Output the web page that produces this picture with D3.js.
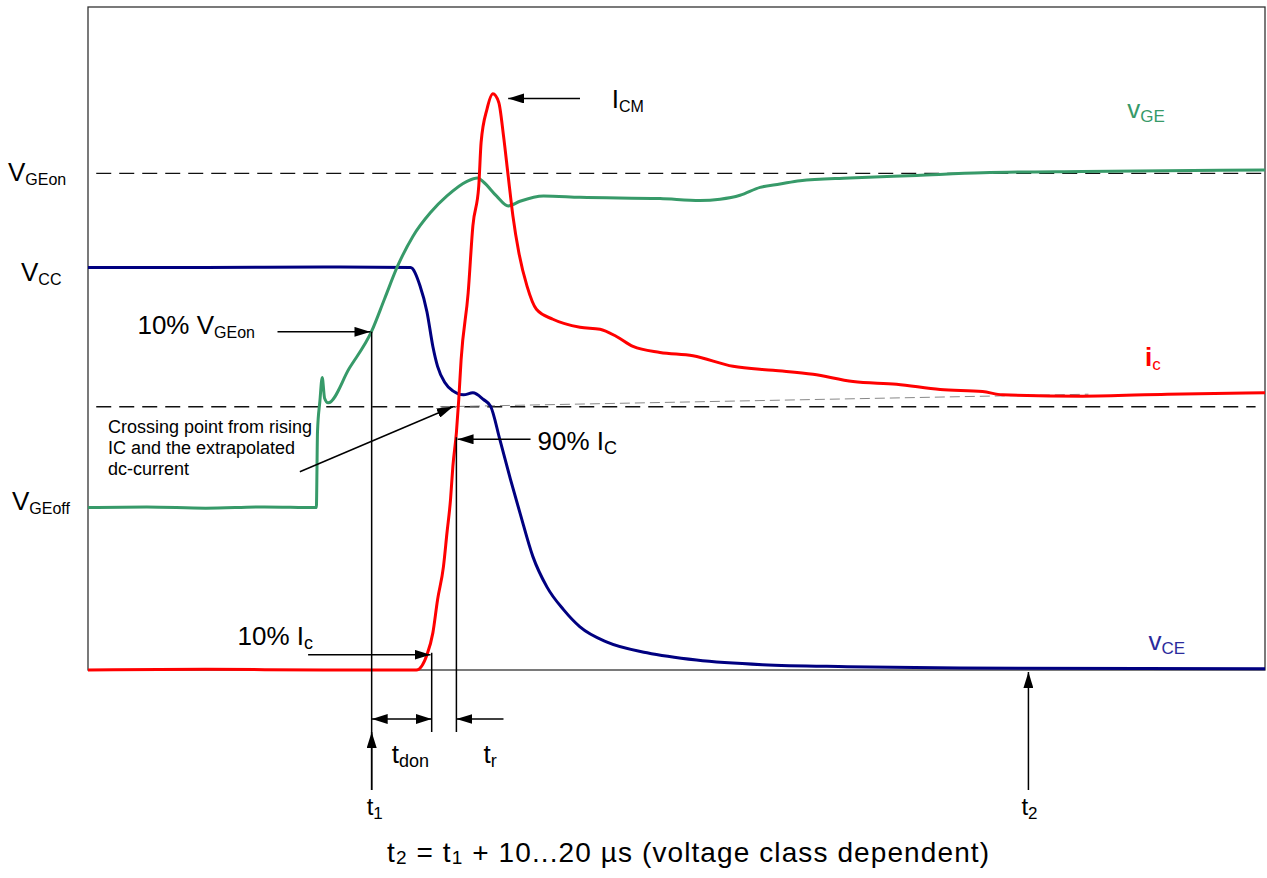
<!DOCTYPE html>
<html>
<head>
<meta charset="utf-8">
<script src="https://cdn.jsdelivr.net/npm/d3@7"></script>
<style>
  body { margin: 0; background: #fff; }
  svg text { font-family: "Liberation Sans", Arial, sans-serif; }
</style>
</head>
<body>
<svg id="chart" width="1267" height="878"></svg>
<script>
// --- Data (time in % of window, amplitude in % of full scale) ---
const vgeTrace = [
  [0,24.5],[5,24.6],[10,24.4],[15,24.6],[19.4,24.5],[19.5,36.0],[19.7,40.5],[19.9,44.1],
  [20.1,41.0],[20.4,40.3],[22.2,45.5],[24.1,51.1],[25.2,56.0],[26.3,60.9],[27.6,65.4],
  [29.1,69.0],[30.5,71.5],[32.2,73.7],[33.1,74.2],[33.6,73.6],[34.7,71.5],[35.7,70.0],
  [36.7,70.7],[38.7,71.5],[41.8,71.3],[48.6,71.1],[52.0,70.8],[53.7,71.0],[55.4,71.6],
  [57.1,72.8],[58.8,73.3],[60.5,73.8],[64.7,74.2],[70.4,74.6],[76.0,75.0],[84.5,75.2],[100,75.4]
];
const vceTrace = [
  [0,60.7],[10,60.7],[20,60.8],[27.4,60.7],[28.2,58.0],[28.8,54.0],[29.3,48.8],[29.7,45.8],
  [30.3,43.4],[31.0,42.1],[31.9,41.5],[32.7,41.8],[33.6,40.8],[34.2,39.8],[35.0,34.7],
  [35.9,28.7],[36.7,23.7],[37.8,17.1],[39.0,12.5],[40.4,9.1],[41.8,6.5],[44.1,4.2],
  [47.5,2.6],[51.7,1.5],[57.3,0.8],[64.5,0.5],[74.1,0.3],[100,0.2]
];
const icTrace = [
  [0,0],[10,0.1],[20,0],[27.9,0],[28.8,2.3],[29.3,5.6],[29.7,10.6],[30.2,15.6],[30.5,20.7],
  [30.8,25.7],[31.0,30.7],[31.3,35.8],[31.5,40.8],[31.7,46.8],[32.3,56.9],[32.7,67.0],
  [33.2,73.0],[33.4,79.6],[33.9,84.6],[34.4,86.9],[34.9,85.6],[35.3,80.6],[35.7,74.5],
  [36.1,68.5],[36.6,63.0],[37.3,57.9],[38.1,54.4],[39.5,52.9],[41.8,51.7],[43.5,51.4],
  [44.9,50.3],[46.3,48.8],[48.6,47.9],[51.4,47.4],[54.8,45.8],[58.2,45.2],[61.6,44.6],
  [65.0,43.5],[68.7,43.1],[72.4,42.3],[76.0,42.0],[77.7,41.5],[84.5,41.3],[91.7,41.6],[100,41.8]
];
const dashedLevels = [74.9, 39.7];          // V_GEon, crossing level
const dashedEnds = [100, 99.2];
const extrapLine = [[29.9,39.7],[85,41.6]];  // extrapolated dc-current
const levelV = { GEon: 74.9, CC: 60.7, GEoff: 24.5 };
const tMarks = { t1: 24.1, tdon: 29.2, tr: 31.3, t2: 79.9 };
const crossText = ["Crossing point from rising", "IC and the extrapolated", "dc-current"];

// --- Khung vẽ ---
const svg = d3.select("#chart");
const x = d3.scaleLinear().domain([0, 100]).range([88, 1265]);
const y = d3.scaleLinear().domain([0, 100]).range([670, 7]);
const y0 = y(0);

// --- Arrow markers ---
const defs = svg.append("defs");
defs.append("marker")
  .attr("id", "arr")
  .attr("viewBox", "0 0 16 10")
  .attr("refX", 16).attr("refY", 5)
  .attr("markerWidth", 16).attr("markerHeight", 10)
  .attr("markerUnits", "userSpaceOnUse")
  .attr("orient", "auto-start-reverse")
  .append("path").attr("d", "M0,0 L16,5 L0,10 Z").attr("fill", "#000");

// --- Frame ---
svg.append("rect")
  .attr("x", x(0)).attr("y", y(100))
  .attr("width", x(100) - x(0)).attr("height", y(0) - y(100))
  .attr("fill", "none").attr("stroke", "#333").attr("stroke-width", 1.3);

// --- Dashed levels ---
svg.selectAll("line.level")
  .data(dashedLevels)
  .enter().append("line")
    .attr("class", "level")
    .attr("x1", x(0.7)).attr("x2", (d, i) => x(dashedEnds[i]))
    .attr("y1", d => y(d)).attr("y2", d => y(d))
    .attr("stroke", "#111").attr("stroke-width", 1.4)
    .attr("stroke-dasharray", "15,8");

svg.append("line")
  .attr("x1", x(extrapLine[0][0])).attr("y1", y(extrapLine[0][1]))
  .attr("x2", x(extrapLine[1][0])).attr("y2", y(extrapLine[1][1]))
  .attr("stroke", "#888").attr("stroke-width", 1)
  .attr("stroke-dasharray", "10,5");

// --- Traces ---
const line = d3.line().x(d => x(d[0])).y(d => y(d[1])).curve(d3.curveMonotoneX);
const traces = [
  { data: vceTrace, color: "#000080" },
  { data: vgeTrace, color: "#379a69" },
  { data: icTrace,  color: "#ff0000" }
];
svg.selectAll("path.trace")
  .data(traces)
  .enter().append("path")
    .attr("class", "trace")
    .attr("d", d => line(d.data))
    .attr("fill", "none")
    .attr("stroke", d => d.color)
    .attr("stroke-width", 3)
    .attr("stroke-linejoin", "round");

// --- helpers ---
function arrow(x1, y1, x2, y2, both) {
  const l = svg.append("line")
    .attr("x1", x1).attr("y1", y1).attr("x2", x2).attr("y2", y2)
    .attr("stroke", "#000").attr("stroke-width", 1.5)
    .attr("marker-end", "url(#arr)");
  if (both) l.attr("marker-start", "url(#arr)");
}
function vline(xp, y1, y2) {
  svg.append("line")
    .attr("x1", xp).attr("x2", xp).attr("y1", y1).attr("y2", y2)
    .attr("stroke", "#000").attr("stroke-width", 1.5);
}
function label(xp, yp, main, sub, o) {
  o = o || {};
  const t = svg.append("text")
    .attr("x", xp).attr("y", yp)
    .style("font-size", (o.size || 26) + "px")
    .style("fill", o.color || "#000");
  t.append("tspan").text(main).style("font-weight", o.bold ? "bold" : "normal");
  if (sub) t.append("tspan")
    .attr("dy", o.dy || 4)
    .style("font-size", (o.subSize || 16) + "px")
    .text(sub);
  return t;
}

// --- Level labels ---
label(8, y(levelV.GEon) + 8, "V", "GEon");
label(21, y(levelV.CC) + 13, "V", "CC");
label(12, y(levelV.GEoff) + 2, "V", "GEoff");

// --- 10% V_GEon ---
arrow(x(16.1), y(51.0), x(24.0), y(51.0));
label(x(4.2), y(51.0) + 2, "10% V", "GEon");
vline(x(tMarks.t1), y(51.0), y0 + 120);
arrow(x(tMarks.t1), y0 + 120, x(tMarks.t1), y0 + 62);

// --- Crossing point ---
const cross = svg.append("text").style("font-size", "18px");
crossText.forEach((s, i) => {
  cross.append("tspan").attr("x", x(1.7)).attr("y", y(35.7) + i * 21).text(s);
});
arrow(x(18.0), y(29.9), x(31.0), y(39.7));

// --- 10% Ic / 90% IC ---
arrow(x(18.7), y(2.3), x(29.1), y(2.3));
label(x(12.7), y(3.8), "10% I", "c", { subSize: 18 });
vline(x(tMarks.tdon), y(2.6), y0 + 62);

arrow(x(37.6), y(34.8), x(31.4), y(34.8));
label(x(38.2), y(33.2), "90% I", "C", { subSize: 18 });
vline(x(tMarks.tr), y(35.1), y0 + 62);

// --- I_CM ---
arrow(x(41.8), y(86.2), x(35.7), y(86.2));
label(x(44.5), y(84.8), "I", "CM");

// --- Trace names ---
label(x(88.3), y(83.3), "v", "GE", { color: "#379a69", subSize: 17 });
label(x(89.8), y(45.9), "i", "c", { color: "#ff0000", bold: true, subSize: 17 });
label(x(90.1), y(3.0), "v", "CE", { color: "#2b2b9c", subSize: 17 });

// --- Time marks ---
arrow(x(tMarks.t1), y0 + 49, x(tMarks.tdon), y0 + 49, true);
arrow(x(35.3), y0 + 49, x(tMarks.tr), y0 + 49);
label(x(25.8), y0 + 93, "t", "don", { subSize: 18 });
label(x(33.6), y0 + 93, "t", "r", { subSize: 18 });
label(x(tMarks.t1) - 5, y0 + 145, "t", "1", { size: 24, subSize: 17 });
arrow(x(tMarks.t2), y0 + 120, x(tMarks.t2), y0 + 2);
label(x(tMarks.t2) - 7, y0 + 145, "t", "2", { size: 24, subSize: 17 });

// --- Formula ---
const f = svg.append("text").attr("x", 387).attr("y", 862)
  .style("font-size", "28px").style("letter-spacing", "1.1px");
f.append("tspan").text("t");
f.append("tspan").attr("dy", 2).style("font-size", "19px").text("2");
f.append("tspan").attr("dy", -2).text(" = t");
f.append("tspan").attr("dy", 2).style("font-size", "19px").text("1");
f.append("tspan").attr("dy", -2).text(" + 10...20 µs (voltage class dependent)");
</script>
</body>
</html>
